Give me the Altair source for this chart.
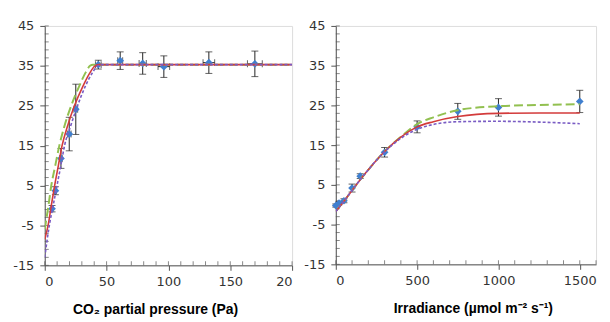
import altair as alt
import pandas as pd

# ---------------- CO2 response panel ----------------
co2_x = [5.9, 8.6, 13.1, 19.8, 25.1, 43.3, 61.0, 79.2, 96.3, 132.7, 169.9]
co2_y = [-0.8, 3.7, 11.8, 17.9, 24.1, 35.3, 36.3, 35.6, 34.8, 35.8, 35.5]
co2_yerr = [0.8, 1.0, 2.5, 4.2, 6.3, 1.1, 2.2, 2.7, 2.7, 2.7, 3.2]
co2_xerr = [0.6, 0.8, 1.0, 1.5, 1.5, 2.3, 2.0, 2.9, 4.7, 4.7, 6.0]

co2_green_x = [0, 0.5, 3, 5.3, 8.5, 11.8, 16, 21.4, 28, 33, 36.6, 39, 200]
co2_green_y = [-6, -5, 0, 5, 10, 15, 20, 25, 30, 33.3, 35, 35.3, 35.3]
co2_red_x = [0, 2.7, 5.3, 8, 11, 14, 18.5, 24, 31, 36, 40.7, 44, 200]
co2_red_y = [-8.5, -5, 0, 5, 10, 15, 20, 25, 30, 33, 35, 35.3, 35.3]
co2_purple_x = [0, 3.7, 6.8, 9.9, 13, 16, 21, 26.5, 33, 38, 42.8, 46, 200]
co2_purple_y = [-13, -5, 0, 5, 10, 15, 20, 25, 30, 33, 35, 35.3, 35.3]

co2_major = [0, 50, 100, 150, 200]
co2_minor = list(range(0, 201, 10))

# ---------------- Light response panel ----------------
ir_x = [0, 20, 50, 100, 150, 300, 500, 750, 1000, 1500]
ir_y = [-0.2, 0.4, 1.0, 4.2, 7.2, 13.2, 19.6, 23.5, 24.5, 26.0]
ir_yerr = [0.4, 0.4, 0.5, 1.0, 0.6, 1.2, 1.5, 2.0, 2.2, 2.8]

ir_green_x = [0, 50, 100, 150, 200, 250, 300, 400, 500, 600, 750, 1000, 1250, 1500]
ir_green_y = [-1.7, 0.9, 3.6, 6.3, 8.8, 11.2, 13.4, 17.1, 20.3, 22.0, 23.8, 24.8, 25.1, 25.3]
ir_red_x = [0, 50, 100, 150, 200, 250, 300, 400, 500, 600, 750, 1000, 1250, 1500]
ir_red_y = [-1.7, 0.9, 3.6, 6.3, 8.8, 11.2, 13.4, 17.0, 19.6, 20.9, 22.2, 23.0, 23.1, 23.1]
ir_purple_x = [0, 50, 100, 150, 200, 250, 300, 400, 500, 600, 750, 1000, 1250, 1500]
ir_purple_y = [-1.7, 0.9, 3.6, 6.3, 8.8, 11.2, 13.3, 16.7, 19.0, 20.2, 20.9, 21.0, 20.8, 20.4]

ir_major = [0, 500, 1000, 1500]
ir_minor = list(range(0, 1601, 100))

y_major = [-15, -5, 5, 15, 25, 35, 45]
y_minor = list(range(-15, 46, 2))

GREEN = "#92c050"
RED = "#d33b3b"
PURPLE = "#7a5cc4"
BLUE = "#3f7fcf"
AX = "#555555"


def panel(px, py, pyerr, pxerr, curves, xdom, xmaj, xmin, title, title_x, w, h, lab_expr):
    pts = pd.DataFrame({"x": px, "y": py, "ylo": [a - b for a, b in zip(py, pyerr)],
                        "yhi": [a + b for a, b in zip(py, pyerr)]})
    if pxerr is not None:
        pts["xlo"] = [a - b for a, b in zip(px, pxerr)]
        pts["xhi"] = [a + b for a, b in zip(px, pxerr)]
    xs = alt.Scale(domain=xdom, nice=False, zero=False)
    ys = alt.Scale(domain=[-15, 45], nice=False, zero=False)

    main_x = alt.Axis(values=xmaj, orient="bottom", tickSize=5, tickColor=AX, domainColor=AX,
                      labelFont="DejaVu Sans", labelFontSize=13, labelColor="#333333",
                      labelPadding=5, grid=False, title=title, titleFont="Liberation Sans",
                      titleFontWeight="bold", titleFontSize=14, titleColor="#000000",
                      titleX=title_x, titleY=44, titleBaseline="middle", titleAnchor="middle",
                      labelExpr=lab_expr)
    main_y = alt.Axis(values=y_major, orient="left", tickSize=5, tickColor=AX, domainColor=AX,
                      labelFont="DejaVu Sans", labelFontSize=13, labelColor="#333333",
                      labelPadding=6, grid=False, title=None,
                      labelExpr="'' + datum.value")

    # inward minor ticks along both axes, positioned by the scales
    ytick_df = pd.DataFrame({"v": y_minor})
    xtick_df = pd.DataFrame({"v": xmin})
    yticks = alt.Chart(ytick_df).mark_tick(color=AX, size=4, thickness=1, orient="horizontal").encode(
        y=alt.Y("v:Q", scale=ys, axis=None), x=alt.value(2))
    xticks = alt.Chart(xtick_df).mark_tick(color=AX, size=4, thickness=1, orient="vertical").encode(
        x=alt.X("v:Q", scale=xs, axis=None), y=alt.value(h - 2))

    vbars = alt.Chart(pts).mark_errorbar(ticks={"size": 7, "color": "#222222"}, color="#222222",
                                         thickness=1).encode(
        x=alt.X("x:Q", scale=xs, axis=main_x),
        y=alt.Y("ylo:Q", scale=ys, axis=main_y),
        y2="yhi:Q",
    )
    layers = [vbars, yticks, xticks]
    if pxerr is not None:
        hbars = alt.Chart(pts).mark_errorbar(ticks={"size": 7, "color": "#222222"}, color="#222222",
                                             thickness=1).encode(
            x=alt.X("xlo:Q", scale=xs, axis=None),
            x2="xhi:Q",
            y=alt.Y("y:Q", scale=ys, axis=None),
        )
        layers.append(hbars)
    points = alt.Chart(pts).mark_point(shape="diamond", filled=True, color=BLUE, opacity=1,
                                       size=60).encode(
        x=alt.X("x:Q", scale=xs, axis=None),
        y=alt.Y("y:Q", scale=ys, axis=None),
    )
    layers.append(points)
    for cx, cy, color, dash, sw in curves:
        cdf = pd.DataFrame({"x": cx, "y": cy})
        props = dict(color=color, strokeWidth=sw, interpolate="monotone", clip=True)
        if dash:
            props["strokeDash"] = dash
        layers.append(alt.Chart(cdf).mark_line(**props).encode(
            x=alt.X("x:Q", scale=xs, axis=None),
            y=alt.Y("y:Q", scale=ys, axis=None),
        ))
    return alt.layer(*layers).resolve_axis(x="independent", y="independent").properties(
        width=w, height=h)


left = panel(co2_x, co2_y, co2_yerr, co2_xerr,
             [(co2_green_x, co2_green_y, GREEN, [9, 4], 2),
              (co2_red_x, co2_red_y, RED, None, 1.6),
              (co2_purple_x, co2_purple_y, PURPLE, [3, 2], 1.6)],
             [0, 200], co2_major, co2_minor, "CO₂ partial pressure (Pa)", 111, 249, 241,
             "datum.value == 200 ? '20' : '' + datum.value")
right = panel(ir_x, ir_y, ir_yerr, None,
              [(ir_green_x, ir_green_y, GREEN, [9, 4], 2),
               (ir_red_x, ir_red_y, RED, None, 1.6),
               (ir_purple_x, ir_purple_y, PURPLE, [3, 2], 1.6)],
              [0, 1600], ir_major, ir_minor, "Irradiance (µmol m⁻² s⁻¹)", 138, 262, 240,
              "'' + datum.value")

chart = alt.hconcat(left, right, spacing=44, bounds="flush").properties(
    padding={"left": 4, "top": 10, "right": 5, "bottom": 5}
).configure_view(stroke="#888888", strokeWidth=1).configure(background="white")

chart.save("out.html", embed_options={"renderer": "svg", "actions": False})
